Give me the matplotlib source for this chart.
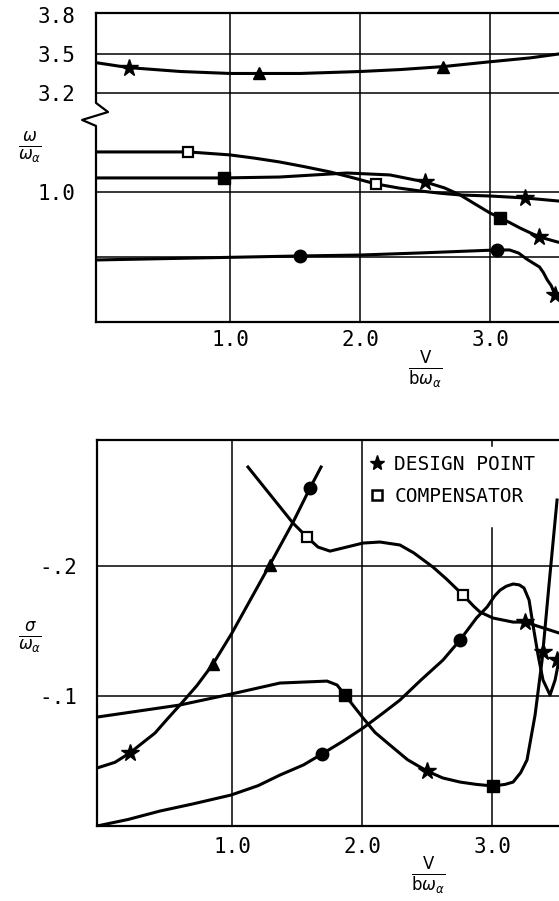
import numpy as np
import matplotlib
matplotlib.use('Agg')
import matplotlib.pyplot as plt
from matplotlib.lines import Line2D

# ---------------- upper panel: omega / omega_alpha ----------------
a_x = [-0.03, 0.22, 0.62, 1.0, 1.22, 1.54, 2.0, 2.31, 2.64, 3.0, 3.31, 3.53]
a_y = [3.433, 3.395, 3.365, 3.35, 3.35, 3.35, 3.365, 3.38, 3.403, 3.44, 3.47, 3.50]

b_x = [-0.03, 0.3, 0.68, 1.0, 1.19, 1.38, 1.57, 1.77, 1.95, 2.12, 2.3, 2.46, 2.62, 2.77, 3.0, 3.27, 3.52]
b_y = [1.308, 1.308, 1.308, 1.285, 1.26, 1.231, 1.195, 1.154, 1.108, 1.062, 1.03, 1.008, 0.99,
       0.977, 0.969, 0.954, 0.931]

c_x = [-0.03, 0.95, 1.38, 1.9, 2.23, 2.5, 2.65, 2.77, 2.88, 3.0, 3.08, 3.15, 3.23, 3.3, 3.38, 3.52]
c_y = [1.108, 1.108, 1.115, 1.146, 1.131, 1.077, 1.031, 0.977, 0.91, 0.838, 0.80, 0.765, 0.723,
       0.69, 0.654, 0.615]

d_x = [-0.03, 1.54, 2.0, 2.46, 3.05, 3.15, 3.22, 3.28, 3.32, 3.38, 3.41, 3.44, 3.47, 3.5]
d_y = [0.477, 0.508, 0.515, 0.531, 0.554, 0.554, 0.53, 0.485, 0.46, 0.423, 0.38, 0.323, 0.28, 0.208]

top_star_x = [0.22, 2.5, 3.38, 3.27, 3.5]
top_star_y = [3.395, 1.077, 0.654, 0.954, 0.208]
top_tri_x = [1.22, 2.64]
top_tri_y = [3.35, 3.403]
top_osq_x = [0.68, 2.12]
top_osq_y = [1.308, 1.062]
top_fsq_x = [0.95, 3.08]
top_fsq_y = [1.108, 0.80]
top_circ_x = [1.54, 3.05]
top_circ_y = [0.508, 0.554]

top_yticks = [0.5, 1.0, 3.2, 3.5, 3.8]
top_ylabels = ['', '1.0', '3.2', '3.5', '3.8']

# ---------------- lower panel: sigma / omega_alpha ----------------
e_x = [-0.038, 0.1, 0.215, 0.3, 0.408, 0.5, 0.6, 0.73, 0.854, 1.0, 1.29, 1.47, 1.6, 1.685]
e_y = [-0.0446, -0.049, -0.0562, -0.063, -0.0715, -0.082, -0.0931, -0.108, -0.1246, -0.1485,
       -0.2008, -0.2338, -0.26, -0.2762]

f_x = [1.123, 1.469, 1.577, 1.662, 1.754, 2.008, 2.138, 2.292, 2.4, 2.546, 2.65, 2.777, 2.86,
       2.908, 3.008, 3.162, 3.254, 3.515]
f_y = [-0.2762, -0.2331, -0.2223, -0.2146, -0.2115, -0.2177, -0.2185, -0.2162, -0.21, -0.1992,
       -0.19, -0.1777, -0.169, -0.1646, -0.16, -0.1569, -0.1569, -0.1485]

g_x = [-0.038, 0.2, 0.446, 0.7, 0.992, 1.2, 1.369, 1.55, 1.692, 1.85, 2.008, 2.15, 2.292, 2.45,
       2.623, 2.754, 2.88, 2.962, 3.02, 3.062, 3.11, 3.162, 3.21, 3.246, 3.285, 3.315, 3.354,
       3.392, 3.446, 3.485, 3.515]
g_y = [0.0, -0.005, -0.0115, -0.017, -0.0238, -0.031, -0.0392, -0.047, -0.0554, -0.065, -0.0754,
       -0.086, -0.0969, -0.112, -0.1277, -0.1431, -0.16, -0.1685, -0.177, -0.1815, -0.1845,
       -0.1862, -0.1855, -0.1831, -0.1738, -0.1546, -0.1315, -0.1123, -0.1008, -0.1123, -0.1277]

h_x = [-0.038, 0.6, 0.992, 1.369, 1.731, 1.808, 1.869, 2.008, 2.1, 2.215, 2.35, 2.5, 2.62,
       2.754, 2.88, 3.008, 3.1, 3.162, 3.22, 3.269, 3.331, 3.385, 3.438, 3.5]
h_y = [-0.0838, -0.0931, -0.1015, -0.11, -0.1115, -0.1085, -0.1008, -0.0831, -0.072, -0.0623,
       -0.051, -0.0423, -0.037, -0.0338, -0.032, -0.0308, -0.032, -0.0338, -0.041, -0.0508,
       -0.0854, -0.1277, -0.1854, -0.2508]

bot_star_x = [0.215, 2.5, 3.254, 3.392, 3.5]
bot_star_y = [-0.0562, -0.0423, -0.1569, -0.1338, -0.1277]
bot_tri_x = [0.854, 1.29]
bot_tri_y = [-0.1246, -0.2008]
bot_osq_x = [1.577, 2.777]
bot_osq_y = [-0.2223, -0.1777]
bot_fsq_x = [1.869, 3.008]
bot_fsq_y = [-0.1008, -0.0308]
bot_circ_x = [1.6, 1.692, 2.754]
bot_circ_y = [-0.26, -0.0554, -0.1431]

bot_yticks = [-0.2, -0.1]
bot_ylabels = ['-.2', '-.1']

xticks = [1.0, 2.0, 3.0]
xlabels = ['1.0', '2.0', '3.0']

legend_labels = ['DESIGN POINT', 'COMPENSATOR']

# broken y axis for the upper panel (gap between 1.7 and 3.2)
brk_y = [-10.0, 1.7, 3.2, 10.0]
brk_t = [-10.0, 1.7, 1.7615, 8.5615]


def fwd(y):
    return np.interp(y, brk_y, brk_t)


def inv(t):
    return np.interp(t, brk_t, brk_y)


mono = 'DejaVu Sans Mono'
LW = 2.2
GLW = 1.1

fig = plt.figure(figsize=(5.59, 9.01), dpi=100)
ax1 = fig.add_axes([96 / 559, 1 - 322 / 901, 1 - 96 / 559, (322 - 13) / 901])
ax2 = fig.add_axes([97 / 559, 1 - 826 / 901, 1 - 97 / 559, (826 - 440) / 901])


def mark(ax, x, y, m, **kw):
    ax.plot(x, y, ls='none', marker=m, color='k', zorder=5, clip_on=False, **kw)


# ---- upper panel ----
ax1.set_yscale('function', functions=(fwd, inv))
ax1.set_xlim(-0.031, 3.53)
ax1.set_ylim(0, 3.815)
for yv in top_yticks[:-1]:
    ax1.axhline(yv, color='k', lw=GLW, zorder=1)
for xv in xticks:
    ax1.axvline(xv, color='k', lw=GLW, zorder=1)
for xs, ys in [(a_x, a_y), (b_x, b_y), (c_x, c_y), (d_x, d_y)]:
    ax1.plot(xs, ys, color='k', lw=LW, zorder=4, solid_joinstyle='round')
mark(ax1, top_star_x, top_star_y, '*', ms=13)
mark(ax1, top_tri_x, top_tri_y, '^', ms=9)
mark(ax1, top_osq_x, top_osq_y, 's', ms=7, mfc='white', mew=1.6)
mark(ax1, top_fsq_x, top_fsq_y, 's', ms=8)
mark(ax1, top_circ_x, top_circ_y, 'o', ms=9)

ax1.spines['right'].set_visible(False)
ax1.spines['left'].set_visible(False)
for s in ['top', 'bottom']:
    ax1.spines[s].set_linewidth(1.6)
xl = -0.031
ax1.plot([xl, xl, 0.0615, -0.138, xl, xl], [3.815, 1.685, 1.615, 1.554, 1.508, 0],
         color='k', lw=1.6, clip_on=False, zorder=6)

ax1.set_yticks(top_yticks)
ax1.set_yticklabels(top_ylabels)
ax1.set_xticks(xticks)
ax1.set_xticklabels(xlabels)
ax1.tick_params(axis='y', length=0, pad=15, labelsize=15, labelfontfamily=mono)
ax1.tick_params(axis='x', length=0, pad=6, labelsize=15, labelfontfamily=mono)
ax1.minorticks_off()

# ---- lower panel ----
ax2.set_xlim(-0.038, 3.515)
ax2.set_ylim(0, -0.297)
for yv in bot_yticks:
    ax2.axhline(yv, color='k', lw=GLW, zorder=1)
ax2.axvline(1.0, color='k', lw=GLW, zorder=1)
ax2.axvline(2.0, color='k', lw=GLW, zorder=1)
ax2.axvline(3.0, ymax=0.772, color='k', lw=GLW, zorder=1)
ax2.axvline(3.0, ymin=0.985, color='k', lw=GLW, zorder=1)
for xs, ys in [(e_x, e_y), (f_x, f_y), (g_x, g_y), (h_x, h_y)]:
    ax2.plot(xs, ys, color='k', lw=LW, zorder=4, solid_joinstyle='round')
mark(ax2, bot_star_x, bot_star_y, '*', ms=13)
mark(ax2, bot_tri_x, bot_tri_y, '^', ms=9)
mark(ax2, bot_osq_x, bot_osq_y, 's', ms=7, mfc='white', mew=1.6)
mark(ax2, bot_fsq_x, bot_fsq_y, 's', ms=8)
mark(ax2, bot_circ_x, bot_circ_y, 'o', ms=9)

ax2.spines['right'].set_visible(False)
for s in ['top', 'bottom', 'left']:
    ax2.spines[s].set_linewidth(1.6)
ax2.set_yticks(bot_yticks)
ax2.set_yticklabels(bot_ylabels)
ax2.set_xticks(xticks)
ax2.set_xticklabels(xlabels)
ax2.tick_params(axis='y', length=0, pad=14, labelsize=15, labelfontfamily=mono)
ax2.tick_params(axis='x', length=0, pad=8, labelsize=15, labelfontfamily=mono)

handles = [Line2D([], [], marker='*', ls='none', color='k', ms=11),
           Line2D([], [], marker='s', ls='none', mfc='white', mec='k', mew=1.8, ms=7)]
ax2.legend(handles, legend_labels, loc='upper left', bbox_to_anchor=(0.589, 0.961),
           frameon=False, borderpad=0, borderaxespad=0, handlelength=0.8,
           handletextpad=0.5, labelspacing=0.68, prop={'family': mono, 'size': 14})

# axis labels
fig.text(425 / 559, 1 - 370 / 901, r'$\frac{\mathrm{V}}{\mathrm{b}\omega_{\alpha}}$',
         ha='center', va='center', fontsize=17)
fig.text(428 / 559, 1 - 876 / 901, r'$\frac{\mathrm{V}}{\mathrm{b}\omega_{\alpha}}$',
         ha='center', va='center', fontsize=17)
fig.text(30 / 559, 1 - 148 / 901, r'$\frac{\omega}{\omega_{\alpha}}$',
         ha='center', va='center', fontsize=17)
fig.text(30 / 559, 1 - 638 / 901, r'$\frac{\sigma}{\omega_{\alpha}}$',
         ha='center', va='center', fontsize=17)

fig.savefig('out.png', dpi=100)
